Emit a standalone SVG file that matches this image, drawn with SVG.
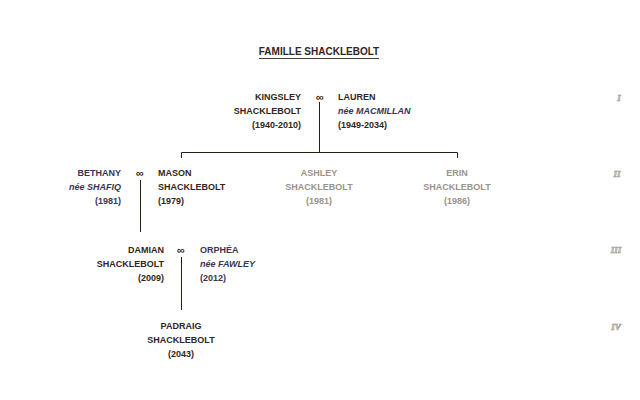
<svg xmlns="http://www.w3.org/2000/svg" width="640" height="400" viewBox="0 0 640 400">
<style>
text{font-family:"Liberation Sans",Arial,sans-serif;font-weight:bold;font-size:9px;fill:#33251a}
.r{text-anchor:end}.m{text-anchor:middle}
.g{fill:#9c928a}
.inf{font-size:11px;fill:#33251a;text-anchor:middle}
.gen{font-family:"Liberation Serif","Times New Roman",serif;font-style:italic;font-size:9px;fill:#e4e0d8;stroke:#9a9288;stroke-width:0.6;text-anchor:middle}
.ln{stroke:#2a1e12;stroke-width:1;fill:none}
</style>
<rect width="640" height="400" fill="#fff"/>
<text x="319" y="55" class="m" style="font-size:10px">FAMILLE SHACKLEBOLT</text>
<line x1="259" y1="58.5" x2="379" y2="58.5" stroke="#33251a" stroke-width="0.9"/>
<g id="connectors">
<path class="ln" d="M319.5 102V152.5M181.5 158V152.5H457.5V158"/>
<path class="ln" d="M140.5 180V232"/>
<path class="ln" d="M181.5 257V310"/>
</g>
<g id="kingsley"><text class="r"><tspan x="301" y="100">KINGSLEY</tspan><tspan x="301" y="114">SHACKLEBOLT</tspan><tspan x="301" y="128">(1940-2010)</tspan></text></g>
<text class="inf" x="320" y="100.5">∞</text>
<g id="lauren"><text><tspan x="338" y="100">LAUREN</tspan><tspan x="338" y="114" fill="#3c3550" font-style="italic">née MACMILLAN</tspan><tspan x="338" y="128">(1949-2034)</tspan></text></g>
<g id="bethany"><text class="r"><tspan x="121" y="176" fill="#3c3550">BETHANY</tspan><tspan x="121" y="190" fill="#3c3550" font-style="italic">née SHAFIQ</tspan><tspan x="121" y="204" fill="#3c3550">(1981)</tspan></text></g>
<text class="inf" x="140" y="176.5">∞</text>
<g id="mason"><text><tspan x="158" y="176">MASON</tspan><tspan x="158" y="190">SHACKLEBOLT</tspan><tspan x="158" y="204">(1979)</tspan></text></g>
<g id="ashley"><text class="m g"><tspan x="319" y="176">ASHLEY</tspan><tspan x="319" y="190">SHACKLEBOLT</tspan><tspan x="319" y="204">(1981)</tspan></text></g>
<g id="erin"><text class="m g"><tspan x="457" y="176">ERIN</tspan><tspan x="457" y="190">SHACKLEBOLT</tspan><tspan x="457" y="204">(1986)</tspan></text></g>
<g id="damian"><text class="r"><tspan x="164" y="253">DAMIAN</tspan><tspan x="164" y="267">SHACKLEBOLT</tspan><tspan x="164" y="281">(2009)</tspan></text></g>
<text class="inf" x="181" y="253.5">∞</text>
<g id="orphea"><text><tspan x="200" y="253" fill="#3c3550">ORPHÉA</tspan><tspan x="200" y="267" fill="#3c3550" font-style="italic">née FAWLEY</tspan><tspan x="200" y="281" fill="#3c3550">(2012)</tspan></text></g>
<g id="padraig"><text class="m"><tspan x="181" y="329">PADRAIG</tspan><tspan x="181" y="343">SHACKLEBOLT</tspan><tspan x="181" y="357">(2043)</tspan></text></g>
<g id="generations">
<text class="gen" x="619" y="101">I</text>
<text class="gen" x="617" y="177">II</text>
<text class="gen" x="616" y="253">III</text>
<text class="gen" x="616" y="330">IV</text>
</g>
</svg>
